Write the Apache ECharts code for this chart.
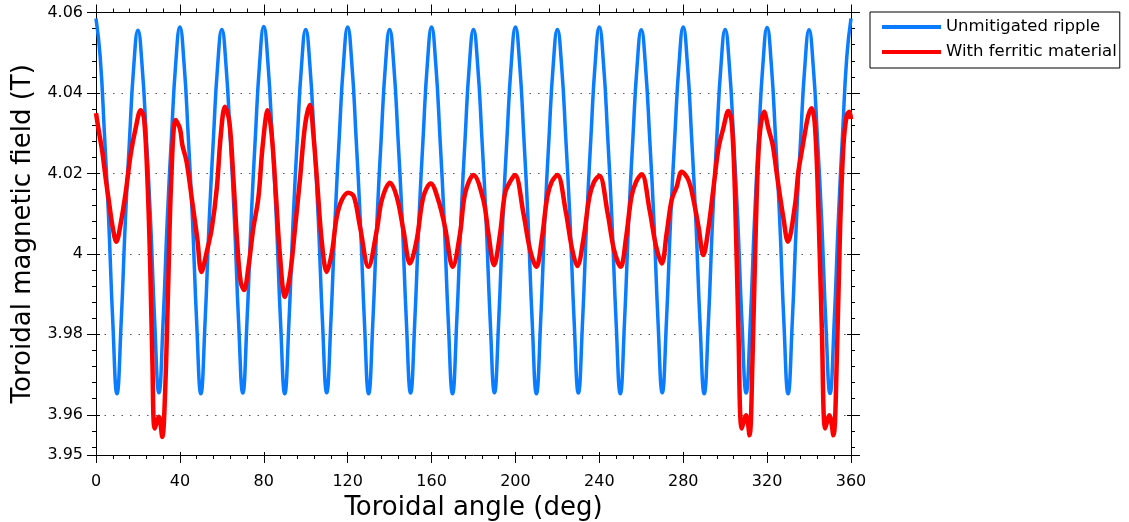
<!DOCTYPE html>
<html>
<head>
<meta charset="utf-8">
<script src="https://cdn.jsdelivr.net/npm/echarts@6/dist/echarts.min.js"></script>
<style>
html,body{margin:0;padding:0;background:#fff;}
#chart{width:1129px;height:522px;}
</style>
</head>
<body>
<div id="chart"></div>
<script>
// ---------------- data ----------------
const seriesNames = ['Unmitigated ripple', 'With ferritic material'];
const xTitle = 'Toroidal angle (deg)';
const yTitle = 'Toroidal magnetic field (T)';

// Unmitigated ripple: read every 2 deg from 0 to 360
const blueAngle = [
  0,2,4,6,8,10,12,14,16,18,
  20,22,24,26,28,30,32,34,36,38,
  40,42,44,46,48,50,52,54,56,58,
  60,62,64,66,68,70,72,74,76,78,
  80,82,84,86,88,90,92,94,96,98,
  100,102,104,106,108,110,112,114,116,118,
  120,122,124,126,128,130,132,134,136,138,
  140,142,144,146,148,150,152,154,156,158,
  160,162,164,166,168,170,172,174,176,178,
  180,182,184,186,188,190,192,194,196,198,
  200,202,204,206,208,210,212,214,216,218,
  220,222,224,226,228,230,232,234,236,238,
  240,242,244,246,248,250,252,254,256,258,
  260,262,264,266,268,270,272,274,276,278,
  280,282,284,286,288,290,292,294,296,298,
  300,302,304,306,308,310,312,314,316,318,
  320,322,324,326,328,330,332,334,336,338,
  340,342,344,346,348,350,352,354,356,358,
  360
];
const blueField = [
  4.0585,4.0490,4.0300,4.0090,3.9832,3.9652,3.9830,4.0083,4.0286,4.0466,
  4.0556,4.0466,4.0288,4.0085,3.9830,3.9655,3.9832,4.0087,4.0292,4.0472,
  4.0564,4.0472,4.0290,4.0085,3.9830,3.9652,3.9830,4.0085,4.0288,4.0468,
  4.0558,4.0468,4.0288,4.0085,3.9830,3.9654,3.9832,4.0087,4.0292,4.0473,
  4.0565,4.0473,4.0291,4.0086,3.9831,3.9652,3.9830,4.0084,4.0287,4.0468,
  4.0558,4.0468,4.0288,4.0085,3.9830,3.9655,3.9832,4.0087,4.0291,4.0472,
  4.0564,4.0472,4.0290,4.0085,3.9830,3.9652,3.9830,4.0085,4.0288,4.0468,
  4.0558,4.0468,4.0288,4.0085,3.9831,3.9654,3.9832,4.0087,4.0291,4.0472,
  4.0564,4.0472,4.0290,4.0085,3.9830,3.9652,3.9830,4.0084,4.0287,4.0468,
  4.0558,4.0468,4.0288,4.0085,3.9830,3.9655,3.9832,4.0087,4.0292,4.0472,
  4.0564,4.0472,4.0290,4.0085,3.9830,3.9652,3.9830,4.0085,4.0288,4.0468,
  4.0558,4.0468,4.0288,4.0085,3.9831,3.9654,3.9832,4.0087,4.0291,4.0472,
  4.0564,4.0472,4.0290,4.0085,3.9830,3.9652,3.9830,4.0084,4.0287,4.0467,
  4.0557,4.0467,4.0288,4.0085,3.9830,3.9655,3.9832,4.0087,4.0292,4.0472,
  4.0564,4.0472,4.0290,4.0085,3.9830,3.9652,3.9830,4.0085,4.0288,4.0468,
  4.0558,4.0468,4.0288,4.0085,3.9831,3.9654,3.9832,4.0087,4.0291,4.0471,
  4.0563,4.0471,4.0290,4.0085,3.9830,3.9652,3.9830,4.0084,4.0287,4.0467,
  4.0557,4.0466,4.0288,4.0085,3.9830,3.9653,3.9832,4.0090,4.0300,4.0490,
  4.0585
];

// With ferritic material: read point by point
const redAngle = [
  0,1.4,3.0,4.6,6.2,7.8,9.7,11.8,14.2,16.5,18.9,21.3,22.9,24.5,25.8,26.9,28.0,30.0,31.6,32.9,
  34.3,35.9,38.0,40.0,41.2,43.2,45.9,48.3,50.3,52.8,55.2,57.6,59.5,61.5,63.6,65.5,67.4,69.0,70.6,72.6,
  75.0,77.4,79.5,81.9,83.8,85.8,87.7,90.1,92.5,94.9,97.3,99.7,102.0,103.6,105.5,107.6,110.0,112.4,114.8,117.2,
  120.3,123.0,125.9,129.9,133.9,136.3,140.2,143.4,146.6,149.7,152.9,156.1,159.6,163.2,166.4,170.1,173.6,176.0,180.0,184.7,
  187.1,189.8,192.7,195.0,197.4,199.8,203.8,207.0,210.0,212.5,215.2,217.3,220.0,224.0,227.0,229.5,232.5,235.2,237.4,240.0,
  244.0,247.0,250.2,252.7,255.3,257.6,260.2,264.0,267.0,269.8,272.1,274.5,276.9,279.3,282.5,284.9,287.3,289.6,292.0,294.4,
  296.8,299.1,301.5,303.1,304.7,306.3,307.9,310.0,311.6,313.0,314.6,316.3,318.6,320.6,322.7,324.9,327.8,329.9,333.3,334.9,
  336.5,338.1,339.7,341.3,342.9,344.5,346.1,347.7,349.7,351.6,353.2,354.8,356.4,358.0,359.2,360.0
];
const redField = [
  4.0350,4.0303,4.0254,4.0188,4.0129,4.0071,4.0030,4.0076,4.0154,4.0246,4.0312,4.0357,4.0337,4.0188,3.9980,3.9731,3.9566,3.9595,3.9545,3.9649,
  3.9897,4.0188,4.0333,4.0312,4.0270,4.0229,4.0129,4.0038,3.9955,4.0005,4.0063,4.0163,4.0295,4.0366,4.0328,4.0188,4.0022,3.9930,3.9910,3.9964,
  4.0063,4.0138,4.0270,4.0357,4.0295,4.0146,3.9997,3.9893,3.9947,4.0063,4.0188,4.0320,4.0370,4.0300,4.0175,4.0034,3.9955,4.0001,4.0092,4.0134,
  4.0152,4.0142,4.0067,3.9968,4.0059,4.0134,4.0177,4.0142,4.0059,3.9976,4.0034,4.0142,4.0175,4.0134,4.0067,3.9968,4.0051,4.0150,4.0196,4.0134,
  4.0051,3.9972,4.0051,4.0150,4.0179,4.0196,4.0101,4.0009,3.9968,4.0034,4.0142,4.0179,4.0196,4.0105,4.0012,3.9970,4.0040,4.0140,4.0178,4.0194,
  4.0100,4.0010,3.9968,4.0038,4.0142,4.0180,4.0198,4.0108,4.0020,3.9976,4.0051,4.0134,4.0167,4.0204,4.0183,4.0134,4.0067,3.9997,4.0063,4.0163,
  4.0262,4.0312,4.0355,4.0328,4.0146,3.9814,3.9566,3.9599,3.9549,3.9731,4.0063,4.0287,4.0353,4.0312,4.0270,4.0188,4.0088,4.0030,4.0121,4.0204,
  4.0254,4.0303,4.0345,4.0362,4.0312,4.0104,3.9814,3.9566,3.9599,3.9549,3.9731,4.0063,4.0270,4.0345,4.0353,4.0335
];

// axis ranges / ticks
const xMin = 0, xMax = 360, xStep = 40;
const yMin = 3.95, yMax = 4.06, yStep = 0.02, yMinorStep = 0.004;

// ---------------- chart ----------------
const FONT = 'DejaVu Sans';
const chart = echarts.init(document.getElementById('chart'), null, {renderer: 'canvas'});

const pairs = (xs, ys) => xs.map((x, i) => [x, ys[i]]);

const baseX = {
  type: 'value', min: xMin, max: xMax, interval: xStep,
  splitLine: {show: false}
};
// reversed, negated copy of the y scale so ticks are counted from the top (4.06)
const negY = {
  type: 'value', min: -yMax, max: -yMin, inverse: true,
  splitLine: {show: false}, axisLine: {show: false}, axisLabel: {show: false}
};

const option = {
  animation: false,
  backgroundColor: '#fff',
  grid: {left: 96, right: 278, top: 12.5, bottom: 67, containLabel: false, outerBoundsMode: 'none'},
  legend: {
    orient: 'vertical', left: 870, top: 12,
    padding: [5.5, 3, 6.5, 12],
    itemWidth: 59, itemHeight: 4, itemGap: 6, icon: 'rect',
    borderColor: '#000', borderWidth: 1,
    textStyle: {fontFamily: FONT, fontSize: 16.5, color: '#000', lineHeight: 19},
    data: seriesNames
  },
  xAxis: [
    Object.assign({}, baseX, {
      position: 'bottom',
      name: xTitle, nameLocation: 'middle', nameGap: 39,
      nameTextStyle: {fontFamily: FONT, fontSize: 26, color: '#000'},
      axisLine: {show: true, lineStyle: {color: '#000', width: 1}},
      axisTick: {show: true, inside: false, length: 8, lineStyle: {color: '#000'}},
      minorTick: {show: true, splitNumber: 5, length: 4, lineStyle: {color: '#000'}},
      axisLabel: {show: true, margin: 19, fontFamily: FONT, fontSize: 16, color: '#000'}
    }),
    Object.assign({}, baseX, {
      position: 'top',
      axisLine: {show: true, lineStyle: {color: '#000', width: 1}},
      axisTick: {show: true, inside: false, length: 8, lineStyle: {color: '#000'}},
      minorTick: {show: true, splitNumber: 5, length: 4, lineStyle: {color: '#000'}},
      axisLabel: {show: false}
    }),
    Object.assign({}, baseX, {
      position: 'bottom', axisLine: {show: false}, axisLabel: {show: false},
      axisTick: {show: true, inside: true, length: 3, lineStyle: {color: '#000'}}
    }),
    Object.assign({}, baseX, {
      position: 'top', axisLine: {show: false}, axisLabel: {show: false},
      axisTick: {show: true, inside: true, length: 3, lineStyle: {color: '#000'}}
    })
  ],
  yAxis: [
    { // data axis
      type: 'value', min: yMin, max: yMax, position: 'left',
      name: yTitle, nameLocation: 'middle', nameGap: 60,
      nameTextStyle: {fontFamily: FONT, fontSize: 26, color: '#000'},
      axisLine: {show: true, lineStyle: {color: '#000', width: 1}},
      axisTick: {show: false}, axisLabel: {show: false}, splitLine: {show: false}
    },
    Object.assign({}, negY, { // labels + major ticks + dotted grid (left)
      position: 'left', interval: yStep,
      axisTick: {show: true, inside: false, length: 9, lineStyle: {color: '#000'}},
      axisLabel: {show: true, margin: 13, fontFamily: FONT, fontSize: 16, color: '#000',
        formatter: v => String(+(-v).toFixed(2))},
      splitLine: {show: true, lineStyle: {color: '#555', width: 1, type: [1.5, 7]}}
    }),
    Object.assign({}, negY, { // minor ticks left
      position: 'left', interval: yMinorStep,
      axisTick: {show: true, inside: false, length: 4, lineStyle: {color: '#000'}}
    }),
    Object.assign({}, negY, { // major inner ticks left
      position: 'left', interval: yStep,
      axisTick: {show: true, inside: true, length: 4, lineStyle: {color: '#000'}}
    }),
    Object.assign({}, negY, { // right axis + major ticks
      position: 'right', interval: yStep,
      axisLine: {show: true, lineStyle: {color: '#000', width: 1}},
      axisTick: {show: true, inside: false, length: 9, lineStyle: {color: '#000'}}
    }),
    Object.assign({}, negY, { // minor ticks right
      position: 'right', interval: yMinorStep,
      axisTick: {show: true, inside: false, length: 4, lineStyle: {color: '#000'}}
    }),
    Object.assign({}, negY, { // major inner ticks right
      position: 'right', interval: yStep,
      axisTick: {show: true, inside: true, length: 4, lineStyle: {color: '#000'}}
    })
  ],
  series: [
    {
      name: seriesNames[0], type: 'line', xAxisIndex: 0, yAxisIndex: 0,
      data: pairs(blueAngle, blueField),
      showSymbol: false, smooth: 0.5, color: '#0a7cff',
      lineStyle: {width: 3.5, color: '#0a7cff'}, z: 3
    },
    {
      name: seriesNames[1], type: 'line', xAxisIndex: 0, yAxisIndex: 0,
      data: pairs(redAngle, redField),
      showSymbol: false, smooth: 0.35, color: '#ff0000',
      lineStyle: {width: 4.5, color: '#ff0000'}, z: 4
    }
  ]
};
chart.setOption(option);
</script>
</body>
</html>
